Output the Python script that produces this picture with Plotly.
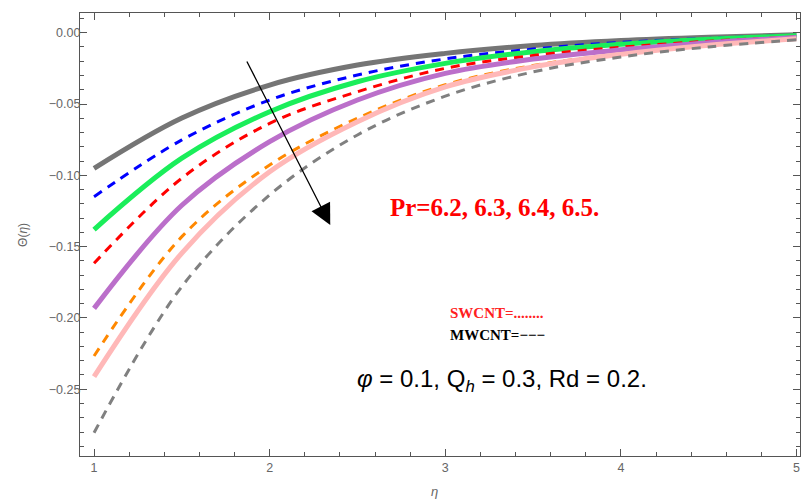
import plotly.graph_objects as go

eta = [1.0, 1.5, 2.0, 2.5, 3.0, 3.5, 4.0, 4.5, 5.0]

swcnt_pr62 = [-0.0951, -0.0598, -0.0367, -0.0227, -0.0145, -0.0090, -0.0055, -0.0032, -0.0015]
mwcnt_pr62 = [-0.1150, -0.0752, -0.0472, -0.0297, -0.0184, -0.0115, -0.0068, -0.0040, -0.0019]
swcnt_pr63 = [-0.1380, -0.0880, -0.0554, -0.0344, -0.0215, -0.0133, -0.0081, -0.0046, -0.0022]
mwcnt_pr63 = [-0.1617, -0.1020, -0.0636, -0.0414, -0.0250, -0.0160, -0.0102, -0.0060, -0.0030]
swcnt_pr64 = [-0.1933, -0.1210, -0.0764, -0.0472, -0.0285, -0.0185, -0.0120, -0.0070, -0.0034]
mwcnt_pr64 = [-0.2267, -0.1430, -0.0928, -0.0600, -0.0365, -0.0230, -0.0150, -0.0085, -0.0040]
swcnt_pr65 = [-0.2412, -0.1545, -0.0975, -0.0624, -0.0380, -0.0240, -0.0152, -0.0088, -0.0043]
mwcnt_pr65 = [-0.2805, -0.1780, -0.1138, -0.0717, -0.0445, -0.0275, -0.0170, -0.0100, -0.0050]

series = [
    (swcnt_pr62, "#757575", "solid", 5),
    (mwcnt_pr62, "#0000ff", "9px,7px", 3),
    (swcnt_pr63, "#1aee5a", "solid", 5),
    (mwcnt_pr63, "#ff0000", "9px,7px", 3),
    (swcnt_pr64, "#bb6fca", "solid", 5),
    (mwcnt_pr64, "#ff8800", "9px,7px", 3),
    (swcnt_pr65, "#ffb8b8", "solid", 5),
    (mwcnt_pr65, "#808080", "9px,7px", 3),
]

fig = go.Figure()
for vals, col, dash, w in series:
    fig.add_trace(go.Scatter(x=eta, y=vals, mode="lines",
                             line=dict(color=col, dash=dash, width=w, shape="spline", smoothing=1.0),
                             showlegend=False))

axis_common = dict(showline=True, linecolor="#555", linewidth=1.2, mirror="allticks",
                   ticks="inside", ticklen=7, tickcolor="#555", tickwidth=1,
                   showgrid=False, zeroline=False,
                   tickfont=dict(family="Liberation Sans, Arial, sans-serif", size=12.5, color="#666"))

fig.update_xaxes(range=[0.92, 5.02], tickvals=[1, 2, 3, 4, 5],
                 minor=dict(dtick=0.2, tick0=1, ticks="inside", ticklen=4, tickcolor="#555"),
                 **axis_common)
fig.update_yaxes(range=[-0.2968, 0.0138], tickvals=[0, -0.05, -0.10, -0.15, -0.20, -0.25],
                 tickformat=".2f", ticklabelstandoff=-4,
                 minor=dict(dtick=0.01, tick0=0, ticks="inside", ticklen=4, tickcolor="#555"),
                 **axis_common)

annotations = [
    dict(x=2.345, y=-0.1349, ax=1.866, ay=-0.0191, xref="x", yref="y", axref="x", ayref="y",
         showarrow=True, arrowhead=2, arrowsize=3.2, arrowwidth=1.3, arrowcolor="#000", text=""),
    dict(x=2.675, y=-0.1229, xref="x", yref="y", xanchor="left", yanchor="middle", showarrow=False,
         text="<b>Pr=6.2, 6.3, 6.4, 6.5.</b>",
         font=dict(family="Liberation Serif, Times New Roman, serif", size=25, color="#ff0000")),
    dict(x=3.017, y=-0.1966, xref="x", yref="y", xanchor="left", yanchor="middle", showarrow=False,
         text="<b>SWCNT=........</b>",
         font=dict(family="Liberation Serif, Times New Roman, serif", size=15, color="#ff2020")),
    dict(x=3.017, y=-0.2120, xref="x", yref="y", xanchor="left", yanchor="middle", showarrow=False,
         text="<b>MWCNT=−−−</b>",
         font=dict(family="Liberation Serif, Times New Roman, serif", size=15, color="#000")),
    dict(x=2.487, y=-0.2436, xref="x", yref="y", xanchor="left", yanchor="middle", showarrow=False,
         text="<i>φ</i> = 0.1, Q<sub><i>h</i></sub> = 0.3, Rd = 0.2.",
         font=dict(family="Liberation Sans, Arial, sans-serif", size=24, color="#000")),
    dict(x=-0.08, y=0.5, xref="paper", yref="paper", textangle=-90, showarrow=False,
         xanchor="center", yanchor="middle", text="Θ(<i>η</i>)",
         font=dict(family="Liberation Sans, Arial, sans-serif", size=12, color="#666")),
    dict(x=0.493, y=-0.08, xref="paper", yref="paper", showarrow=False,
         xanchor="center", yanchor="middle", text="<i>η</i>",
         font=dict(family="Liberation Sans, Arial, sans-serif", size=13, color="#666")),
]

fig.update_layout(width=803, height=504, margin=dict(l=80, r=3, t=13, b=48),
                  plot_bgcolor="white", paper_bgcolor="white", annotations=annotations)

fig.write_html("out.html")
